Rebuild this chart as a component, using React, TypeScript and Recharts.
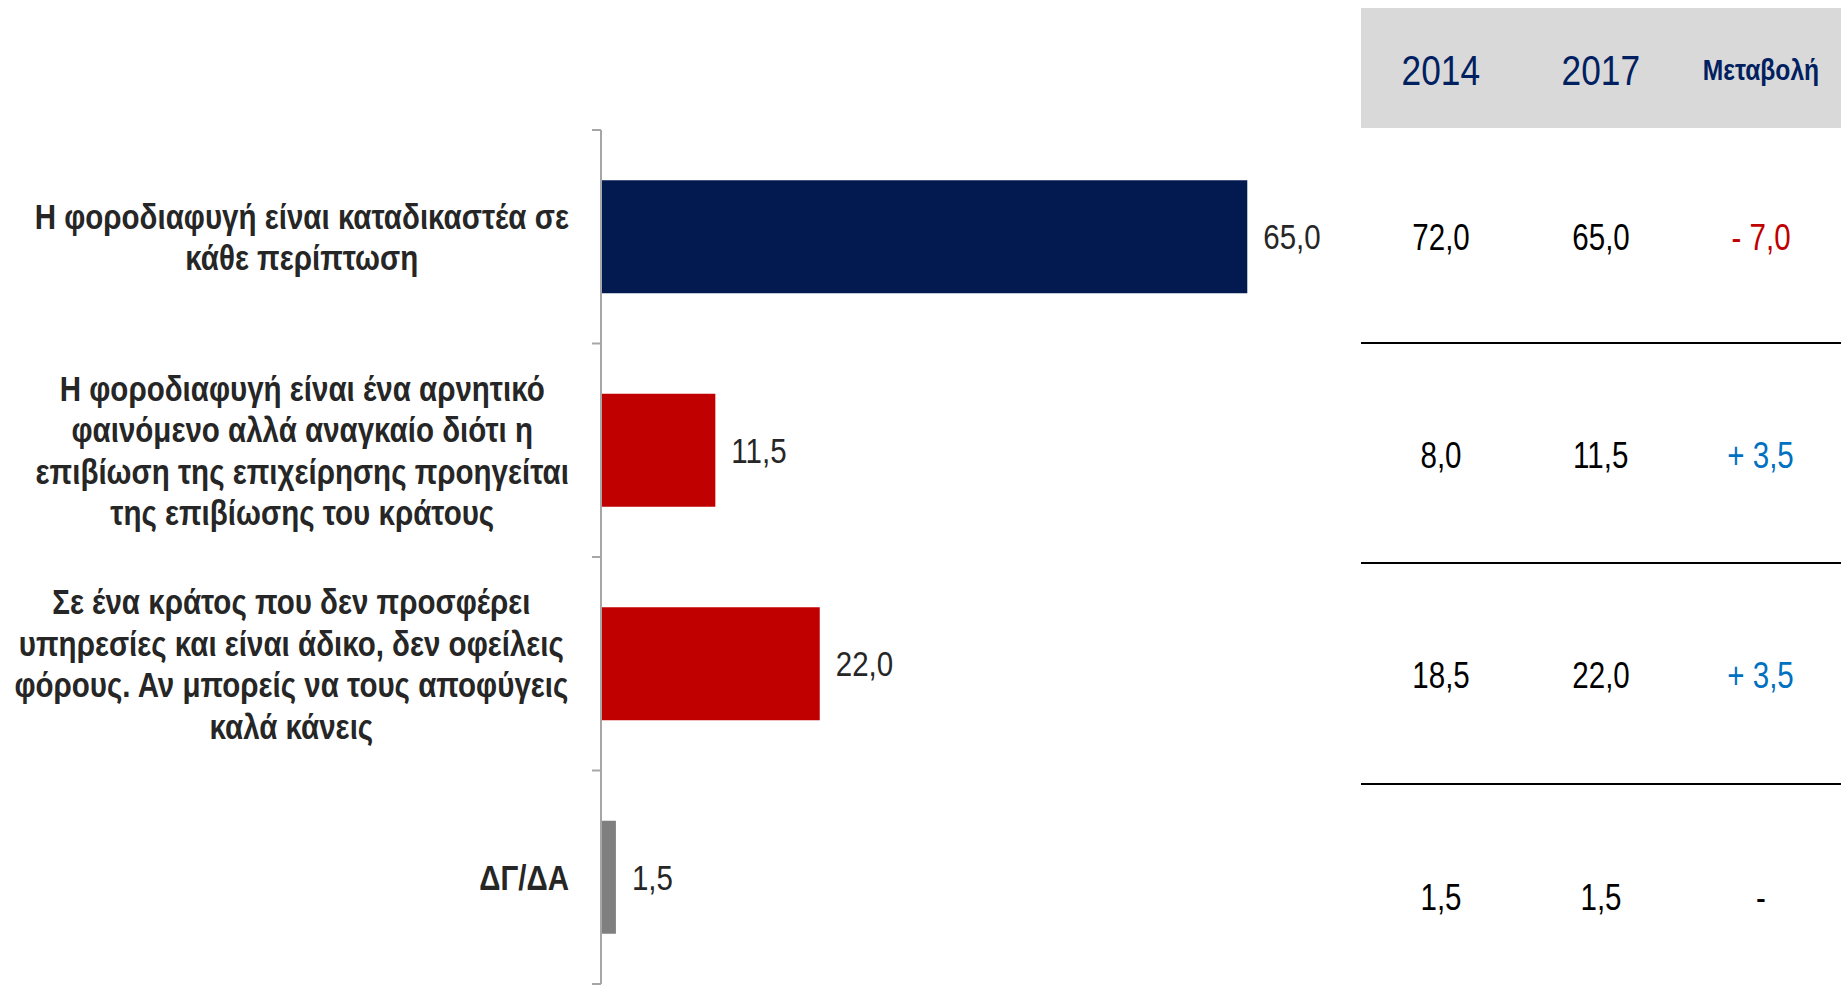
import React from "react";
import { Bar, BarChart, Cell, LabelList, XAxis, YAxis } from "recharts";

const categories = [
  "Η φοροδιαφυγή είναι καταδικαστέα σε\nκάθε περίπτωση",
  "Η φοροδιαφυγή είναι ένα αρνητικό\nφαινόμενο αλλά αναγκαίο διότι η\nεπιβίωση της επιχείρησης προηγείται\nτης επιβίωσης του κράτους",
  "Σε ένα κράτος που δεν προσφέρει\nυπηρεσίες και είναι άδικο, δεν οφείλεις\nφόρους. Αν μπορείς να τους αποφύγεις\nκαλά κάνεις",
  "ΔΓ/ΔΑ",
];
const values2014 = [72.0, 8.0, 18.5, 1.5];
const values2017 = [65.0, 11.5, 22.0, 1.5];
const barColors = ["#021a50", "#c00000", "#c00000", "#7f7f7f"];
const tableHeaders = ["2014", "2017", "Μεταβολή"];

// no narrow font installed, so Liberation Sans squeezed horizontally stands in for Arial Narrow
const FONT = "'Liberation Sans', Arial, sans-serif";
const NARROW = 0.82;
const AXIS_X = 601;
const TICK_SIZE = 9;
const TICK_MARGIN = 23;

const data = categories.map((name, i) => ({ name, value: values2017[i] }));

const fmt = (v: number) => v.toFixed(1).replace(".", ",");

function changeLabel(a: number, b: number) {
  const d = b - a;
  if (Math.abs(d) < 0.05) return { text: "-", color: "#000000" };
  if (d > 0) return { text: "+ " + fmt(d), color: "#0070c0" };
  return { text: "- " + fmt(-d), color: "#c00000" };
}

let ctx: CanvasRenderingContext2D | null = null;
function measure(text: string, font: string) {
  if (!ctx) ctx = document.createElement("canvas").getContext("2d");
  if (!ctx) return text.length * 14;
  ctx.font = font;
  return ctx.measureText(text).width * NARROW;
}

function CategoryTick(props: any) {
  const { x, y, payload, index } = props;
  const lines = String(payload.value).split("\n");
  const maxW = Math.max(...lines.map((l) => measure(l, `bold 36px ${FONT}`)));
  const cx = x - maxW / 2;
  const lineH = 41.5;
  const startY = -((lines.length - 1) * lineH) / 2;
  const half = payload.offset ?? 0;
  const axisX = x + TICK_SIZE + TICK_MARGIN;
  return (
    <g>
      <line x1={axisX - TICK_SIZE} x2={axisX} y1={y - half} y2={y - half} stroke="#a6a6a6" strokeWidth={2} />
      {index === categories.length - 1 && (
        <line x1={axisX - TICK_SIZE} x2={axisX} y1={y + half} y2={y + half} stroke="#a6a6a6" strokeWidth={2} />
      )}
      <text
        transform={`translate(${cx} ${y}) scale(${NARROW} 1)`}
        textAnchor="middle"
        fill="#262626"
        fontFamily={FONT}
        fontWeight="bold"
        fontSize={36}
      >
        {lines.map((l, i) => (
          <tspan key={i} x={0} y={startY + i * lineH} dominantBaseline="central">
            {l}
          </tspan>
        ))}
      </text>
    </g>
  );
}

function ValueLabel(props: any) {
  const { x, y, width, height, value } = props;
  return (
    <text
      transform={`translate(${x + width + 16} ${y + height / 2}) scale(${NARROW} 1)`}
      dominantBaseline="central"
      fill="#262626"
      fontFamily={FONT}
      fontSize={36}
    >
      {fmt(Number(value))}
    </text>
  );
}

const rowTops = [128, 342, 562, 783];
const rowBottoms = [342, 562, 783, 1006];

function Narrow({ children }: { children: React.ReactNode }) {
  return <span style={{ display: "inline-block", transform: `scaleX(${NARROW})`, whiteSpace: "nowrap" }}>{children}</span>;
}

function SideTable() {
  const colW = 160;
  return (
    <div style={{ position: "absolute", left: 1361, top: 0, width: 480, height: 1002, fontFamily: FONT, overflow: "hidden" }}>
      <div style={{ position: "absolute", left: 0, top: 8, width: 480, height: 120, background: "#d9d9d9" }}>
        {tableHeaders.map((h, i) => (
          <div
            key={h}
            style={{
              position: "absolute",
              left: i * colW,
              width: colW,
              top: 2,
              height: 120,
              display: "flex",
              alignItems: "center",
              justifyContent: "center",
              color: "#002060",
              fontSize: i === 2 ? 30 : 43,
              fontWeight: i === 2 ? "bold" : "normal",
            }}
          >
            <Narrow>{h}</Narrow>
          </div>
        ))}
      </div>
      {values2014.map((v, r) => {
        const ch = changeLabel(v, values2017[r]);
        const cells = [
          { text: fmt(v), color: "#000000" },
          { text: fmt(values2017[r]), color: "#000000" },
          ch,
        ];
        return (
          <div
            key={r}
            style={{
              position: "absolute",
              left: 0,
              top: rowTops[r],
              width: 480,
              height: rowBottoms[r] - rowTops[r],
              borderTop: r > 0 ? "2.5px solid #000" : "none",
              boxSizing: "border-box",
            }}
          >
            {cells.map((c, i) => (
              <div
                key={i}
                style={{
                  position: "absolute",
                  left: i * colW,
                  width: colW,
                  top: 5,
                  bottom: 0,
                  display: "flex",
                  alignItems: "center",
                  justifyContent: "center",
                  color: c.color,
                  fontSize: 36,
                }}
              >
                <Narrow>{c.text}</Narrow>
              </div>
            ))}
          </div>
        );
      })}
    </div>
  );
}

export default function App() {
  return (
    <div style={{ position: "absolute", left: 0, top: 0, width: 1841, height: 1002, background: "#fff", overflow: "hidden" }}>
      <BarChart
        width={1841}
        height={1002}
        data={data}
        layout="vertical"
        margin={{ top: 130, right: 544, bottom: 18, left: 0 }}
        barCategoryGap="23.5%"
      >
        <XAxis type="number" domain={[0, 70]} hide />
        <YAxis
          type="category"
          dataKey="name"
          width={AXIS_X}
          axisLine={{ stroke: "#a6a6a6", strokeWidth: 2 }}
          tickLine={false}
          tickSize={TICK_SIZE}
          tickMargin={TICK_MARGIN}
          tick={<CategoryTick />}
          interval={0}
        />
        <Bar dataKey="value" isAnimationActive={false}>
          {data.map((d, i) => (
            <Cell key={d.name} fill={barColors[i]} />
          ))}
          <LabelList dataKey="value" content={<ValueLabel />} />
        </Bar>
      </BarChart>
      <SideTable />
    </div>
  );
}
